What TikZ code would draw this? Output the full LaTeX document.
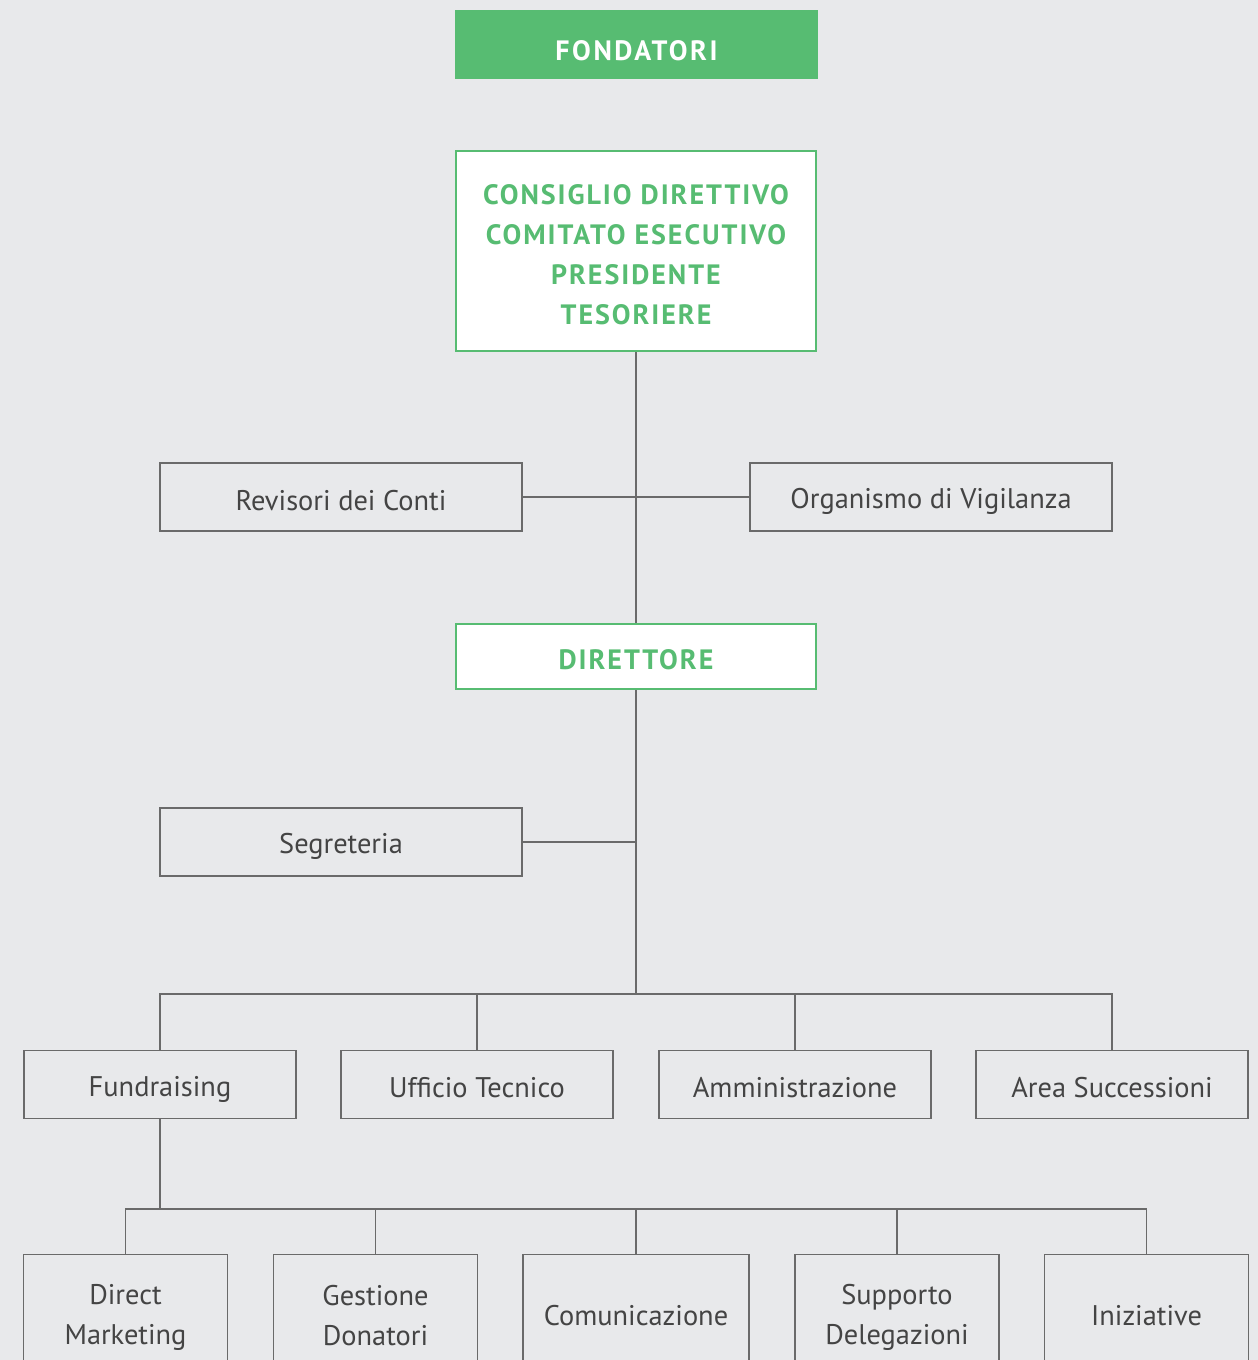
\documentclass[tikz,border=0pt]{standalone}
\usepackage{fontspec}
\setmainfont{PT Sans}
\newfontfamily\boldsp[LetterSpace=7]{PT Sans Bold}
\newfontfamily\boldspw[LetterSpace=9]{PT Sans Bold}
\newcommand\mystr{\rule[-1.5pt]{0pt}{16pt}}
\definecolor{bgc}{HTML}{E8E9EB}
\definecolor{grn}{HTML}{57BC72}
\definecolor{lnc}{HTML}{6A6A6A}
\definecolor{txc}{HTML}{444444}
\begin{document}
\begin{tikzpicture}[x=0.5pt,y=-0.5pt,
  box/.style={draw=lnc,line width=0.7pt,fill=bgc,text=txc,font=\fontsize{14.2}{20}\selectfont,align=center,inner sep=0pt,minimum height=34pt},
  wide/.style={box,minimum width=181pt},
  mid/.style={box,minimum width=136pt},
  low/.style={box,anchor=north,minimum width=102pt,minimum height=58pt},
  gbox/.style={draw=grn,line width=1.4pt,fill=white,text=grn,font=\boldsp\fontsize{14}{20}\selectfont,align=center,inner sep=0pt,minimum width=180pt},
  conn/.style={draw=lnc,line width=0.7pt}]
\useasboundingbox (0,0) rectangle (1258,1360);
\clip (0,0) rectangle (1258,1360);
\fill[bgc] (0,0) rectangle (1258,1360);
% top
\node[fill=grn,text=white,font=\boldspw\fontsize{14}{20}\selectfont,minimum width=181.5pt,minimum height=34.5pt,inner sep=0pt] (fond) at (636.5,44.5) {\rule[-1pt]{0pt}{17.5pt}FONDATORI};
\node[gbox,minimum height=100pt] (cons) at (636,251) {\mystr CONSIGLIO DIRETTIVO\\\mystr COMITATO ESECUTIVO\\\mystr PRESIDENTE\\\mystr TESORIERE};
\node[wide] (rev) at (341,497) {\mystr Revisori dei Conti};
\node[wide] (org) at (931,497) {\mystr Organismo di Vigilanza};
\node[gbox,minimum height=32.5pt] (dir) at (636,656.5) {\mystr DIRETTORE};
\node[wide] (seg) at (341,842) {\mystr Segreteria};
% row 1
\node[mid] (fund) at (160,1084.5) {\mystr Fundraising};
\node[mid] (uff) at (477,1084.5) {\mystr Ufficio Tecnico};
\node[mid] (amm) at (795,1084.5) {\mystr Amministrazione};
\node[mid] (area) at (1112,1084.5) {\mystr Area Successioni};
% row 2
\node[low] (dm) at (125.5,1254) {\mystr Direct\\\mystr Marketing};
\node[low] (gd) at (375.5,1254) {\mystr Gestione\\\mystr Donatori};
\node[low,minimum width=113pt] (com) at (636,1254) {\mystr Comunicazione};
\node[low] (sd) at (897,1254) {\mystr Supporto\\\mystr Delegazioni};
\node[low] (ini) at (1146.5,1254) {\mystr Iniziative};
% connectors
\coordinate (j2) at (636,842);
\coordinate (j3) at (636,994);
\coordinate (j4) at (160,1209);
\draw[conn] (cons.south) -- (dir.north);
\draw[conn] (rev.east) -- (org.west);
\draw[conn] (dir.south) -- (j3);
\draw[conn] (seg.east) -- (j2);
\draw[conn] (fund.north) |- (j3) -| (area.north);
\draw[conn] (uff.north) -- (uff.north |- j3);
\draw[conn] (amm.north) -- (amm.north |- j3);
\draw[conn] (fund.south) -- (j4);
\draw[conn] (dm.north) |- (j4) -| (ini.north);
\draw[conn] (gd.north) -- (gd.north |- j4);
\draw[conn] (com.north) -- (com.north |- j4);
\draw[conn] (sd.north) -- (sd.north |- j4);
\end{tikzpicture}
\end{document}
